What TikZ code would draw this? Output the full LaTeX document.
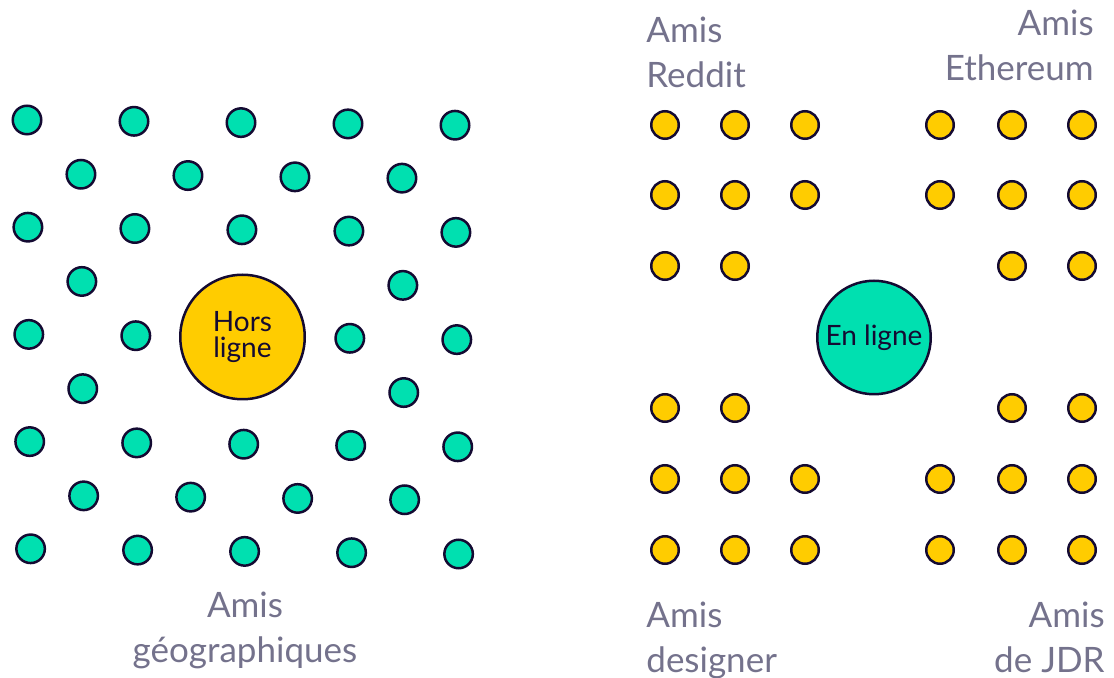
\documentclass[tikz,border=0pt]{standalone}
\usepackage{fontspec}
\setmainfont{Lato}
\usetikzlibrary{positioning}

\definecolor{mint}{HTML}{00E0B0}
\definecolor{sun}{HTML}{FFCC00}
\definecolor{ink}{HTML}{140A32}
\definecolor{slate}{HTML}{74728C}

\tikzset{
  friend/.style={circle, draw=ink, line width=1.25pt, inner sep=0pt},
  dotgeo/.style={friend, fill=mint, minimum size=14.25pt},
  dotweb/.style={friend, fill=sun, minimum size=13.75pt},
  hub/.style={friend, text=ink, align=center},
  amis/.style={text=slate, inner sep=0pt, font=\fontsize{17.5}{22.5}\selectfont}
}

\begin{document}
\begin{tikzpicture}[x=0.5pt, y=-0.5pt]
\useasboundingbox (0,0) rectangle (1114,678);

% offline: slanted lattice
\def\colx{107}
\def\coly{1.3}
\def\rowx{0.45}
\def\rowy{53.6}
\foreach \i in {0,...,8}{
  \pgfmathtruncatemacro{\odd}{mod(\i,2)}
  \pgfmathtruncatemacro{\ncol}{4-\odd}
  \foreach \j in {0,...,\ncol}{
    \pgfmathtruncatemacro{\hole}{(\i==4 && \j==2) || ((\i==3 || \i==5) && (\j==1 || \j==2))}
    \pgfmathsetmacro{\px}{27+\colx*\j+\rowx*\i+53.5*\odd}
    \pgfmathsetmacro{\py}{120+\coly*\j+\rowy*\i+0.65*\odd}
    \ifnum\hole=0
      \node[dotgeo] (geo-\i-\j) at (\px,\py) {};
    \fi
  }
}
\node[hub, fill=sun, minimum size=62.25pt, font=\fontsize{14}{13}\selectfont] (horsligne) at (242.5,337) {Hors\\ligne};
% base anchor sits on the last line
\node[amis, anchor=base, align=center] (geolabel) at (245,662) {Amis\\géographiques};

% online: four groups round the hub
\foreach \x [count=\c] in {665,735,805,940,1012,1082}{
  \foreach \y [count=\r] in {125,195,266,408,479,550}{
    \pgfmathtruncatemacro{\hole}{(\r==3 || \r==4) && (\c==3 || \c==4)}
    \ifnum\hole=0
      \node[dotweb] (web-\r-\c) at (\x,\y) {};
    \fi
  }
}
\node[hub, fill=mint, minimum size=56.75pt, font=\fontsize{14}{14}\selectfont] (enligne) at (874,337.5) {En ligne};

\node[amis, anchor=base west, align=left] (reddit) at (646,88) {Amis\\Reddit};
\node[amis, anchor=base east, align=right] (ethereum) at (1094,81) {Amis\\Ethereum};
\node[amis, anchor=base west, align=left] (designer) at (646,672) {Amis\\designer};
\node[amis, anchor=base east, align=right] (jdr) at (1105,672) {Amis\\de JDR};
\end{tikzpicture}
\end{document}
